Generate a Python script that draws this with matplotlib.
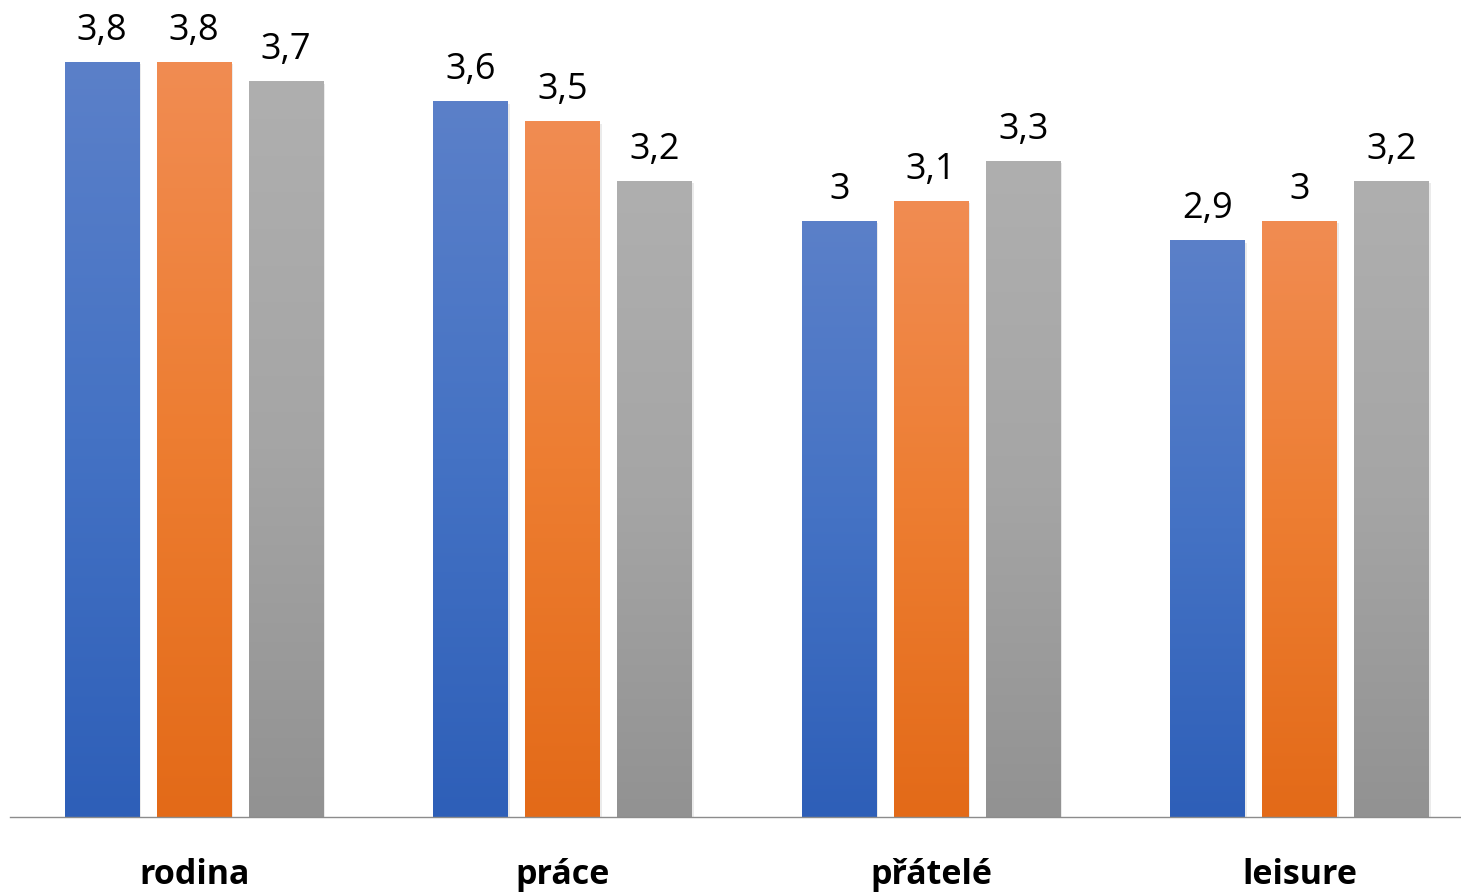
import matplotlib
matplotlib.use("Agg")
import matplotlib.pyplot as plt
import numpy as np
from matplotlib.colors import to_rgb

categories = ["rodina", "práce", "přátelé", "leisure"]
series_a = [3.8, 3.6, 3.0, 2.9]
series_b = [3.8, 3.5, 3.1, 3.0]
series_c = [3.7, 3.2, 3.3, 3.2]
value_labels_a = ["3,8", "3,6", "3", "2,9"]
value_labels_b = ["3,8", "3,5", "3,1", "3"]
value_labels_c = ["3,7", "3,2", "3,3", "3,2"]

gradients = [
    ("#5B80C9", "#4472C4", "#2E5FB8"),
    ("#F18C52", "#ED7D31", "#E36A18"),
    ("#AFAFAF", "#A5A5A5", "#929292"),
]

W, H, DPI = 1461, 893, 100
fig = plt.figure(figsize=(W / DPI, H / DPI), dpi=DPI)
fig.patch.set_facecolor("white")

base_px = 817
unit_px = 198.8
left_px = 10
cat_px = 368.5
ax = fig.add_axes([left_px / W, (H - base_px) / H, 4 * cat_px / W, base_px / H])
ax.set_xlim(-0.5, 3.5)
ax.set_ylim(0, base_px / unit_px)

font = "Open Sans"
width = 75 / cat_px
offset = 92 / cat_px
x = np.arange(len(categories))

def grad_img(top, mid, bot, n=256):
    t = np.linspace(0, 1, n)
    c0, c1, c2 = map(np.array, (to_rgb(top), to_rgb(mid), to_rgb(bot)))
    out = np.empty((n, 1, 3))
    for i, v in enumerate(t):
        if v < 0.5:
            out[i, 0] = c0 + (c1 - c0) * (v / 0.5)
        else:
            out[i, 0] = c1 + (c2 - c1) * ((v - 0.5) / 0.5)
    return out

all_series = [series_a, series_b, series_c]
all_labels = [value_labels_a, value_labels_b, value_labels_c]
for k, (vals, labs) in enumerate(zip(all_series, all_labels)):
    pos = x + (k - 1) * offset
    bars = ax.bar(pos, vals, width=width, color=gradients[k][1], zorder=2, linewidth=0)
    img = grad_img(*gradients[k])
    for b, lab in zip(bars, labs):
        x0, y0 = b.get_x(), b.get_y()
        w, h = b.get_width(), b.get_height()
        # soft shadow
        ax.bar(x0 + w / 2 + 0.004, h, width=w, bottom=-0.012, color="#000000",
               alpha=0.08, zorder=1, linewidth=0)
        im = ax.imshow(img, extent=[x0, x0 + w, y0, y0 + h], aspect="auto",
                       origin="upper", zorder=3, interpolation="bilinear")
        im.set_clip_path(b)
        b.set_alpha(0)
        ax.annotate(lab, xy=(x0 + w / 2, y0 + h), xytext=(0, 22 * 72 / DPI),
                    textcoords="offset points", ha="center", va="baseline",
                    fontsize=26, family=font, color="black", zorder=5)

for i, c in enumerate(categories):
    ax.annotate(c, xy=(i, 0), xycoords=("data", "axes fraction"),
                xytext=(0, -67 * 72 / DPI), textcoords="offset points",
                ha="center", va="baseline", fontsize=24.5, fontweight="bold",
                family=font, color="black", annotation_clip=False)

for s in ["top", "right", "left"]:
    ax.spines[s].set_visible(False)
ax.spines["bottom"].set_color("#8C8C8C")
ax.spines["bottom"].set_linewidth(1.0)
ax.spines["bottom"].set_zorder(4)
ax.set_xticks([])
ax.set_yticks([])
ax.set_facecolor("none")

fig.savefig("out.png", dpi=DPI)
